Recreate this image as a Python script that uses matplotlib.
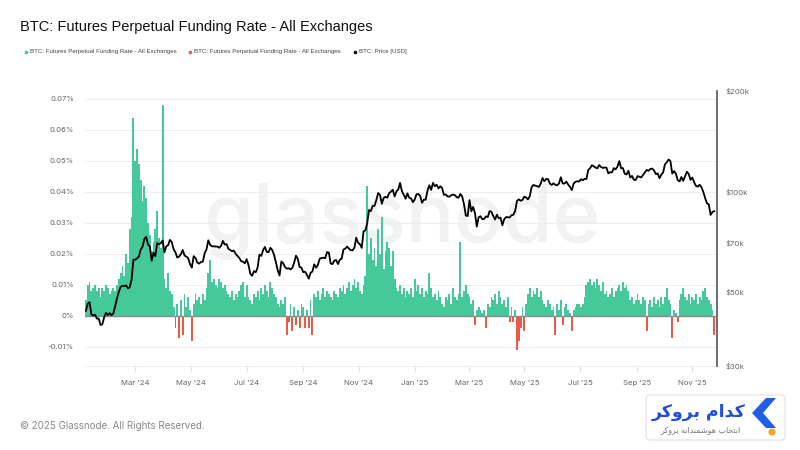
import matplotlib
matplotlib.use('Agg')
import matplotlib.pyplot as plt
import matplotlib.dates as mdates
from matplotlib.lines import Line2D
from matplotlib.patches import FancyBboxPatch, Polygon, Circle
from matplotlib.ticker import FixedLocator, NullLocator, FuncFormatter
import numpy as np
import pandas as pd

# ---------------- data (2-day steps from 2024-01-07) ----------------
start_date = '2024-01-07'

funding_2024 = [
    0.005, 0.010, 0.011, 0.008, 0.009, 0.010, 0.008, 0.009, 0.006, 0.009, 0.008, 0.010, 0.009, 0.007, 0.008, 0.009,
    0.008, 0.010, 0.012, 0.014, 0.016, 0.013, 0.020, 0.017, 0.028, 0.032,
    0.064, 0.050, 0.054, 0.049, 0.044, 0.037, 0.042, 0.038, 0.030, 0.026, 0.021, 0.024, 0.028, 0.034, 0.025, 0.022, 0.068,
    0.012, 0.009, 0.014, 0.008, 0.007, 0.003, -0.004, 0.004, -0.007, 0.005, -0.006, 0.007, 0.003, 0.006, 0.002,
    -0.008, 0.004, 0.007, 0.005, 0.006, 0.004, 0.007, 0.005, 0.009, 0.014, 0.018, 0.011, 0.012, 0.010, 0.009,
    0.012, 0.011, 0.009, 0.010, 0.008, 0.007, 0.006, 0.008, 0.005, 0.007, 0.006, 0.008, 0.010, 0.011, 0.006,
    0.010, 0.006, 0.005, 0.004, 0.007, 0.006, 0.008, 0.005, 0.009, 0.007, 0.010, 0.008, 0.006, 0.011, 0.009, 0.007,
    0.006, 0.004, 0.003, 0.005, 0.004, 0.006, -0.006, -0.002, 0.004, -0.005, 0.003, -0.003, 0.002, -0.004, 0.004,
    0.003, -0.004, 0.002, -0.004, 0.005, -0.006, 0.007, 0.006, 0.008, 0.005, 0.007, 0.009, 0.006, 0.008, 0.007,
    0.006, 0.005, 0.008, 0.007, 0.006, 0.009, 0.008, 0.010, 0.007, 0.009, 0.011, 0.008, 0.010, 0.012, 0.009, 0.011,
    0.008, 0.007, 0.010, 0.013, 0.042, 0.020, 0.025, 0.018, 0.022, 0.016, 0.028, 0.020, 0.032, 0.015, 0.021,
    0.024, 0.022, 0.016, 0.021, 0.012, 0.009, 0.008, 0.010, 0.007, 0.009, 0.006, 0.008, 0.007, 0.009, 0.006,
]
funding_2025 = [
    0.012, 0.008, 0.010, 0.007, 0.009, 0.006, 0.008, 0.007, 0.014, 0.009, 0.006, 0.007, 0.005, 0.008, 0.006, 0.004,
    0.003, 0.006, 0.005, 0.007, 0.004, 0.009, 0.006, 0.005, 0.007, 0.024, 0.006, 0.008, 0.010, 0.007,
    0.006, 0.004, 0.005, -0.003, 0.002, 0.003, 0.002, 0.001, 0.002, -0.004, 0.004, 0.003, 0.006, 0.005, 0.007,
    0.004, 0.008, 0.006, 0.004, 0.005, 0.003, 0.006, -0.002, 0.003, -0.002, 0.002, -0.011, -0.008, -0.004, 0.003,
    -0.005, 0.004, 0.007, 0.009, 0.006, 0.008, 0.007, 0.009, 0.006, 0.008, 0.005, 0.004, 0.003, 0.005, 0.004, 0.002,
    0.003, -0.006, 0.004, 0.002, 0.005, -0.003, 0.003, 0.004, 0.002, 0.001, -0.005, 0.002, 0.003, 0.004, 0.004,
    0.003, 0.004, 0.006, 0.010, 0.011, 0.012, 0.010, 0.011, 0.009, 0.012, 0.010, 0.008, 0.011, 0.007, 0.008,
    0.006, 0.007, 0.009, 0.006, 0.008, 0.009, 0.010, 0.008, 0.011, 0.009, 0.010, 0.008, 0.005, 0.006, 0.004, 0.005,
    0.007, 0.005, 0.004, 0.006, 0.005, -0.005, 0.004, 0.005, 0.003, 0.006, 0.004, 0.005, 0.003, 0.006, 0.004,
    0.006, 0.009, 0.005, 0.004, -0.007, 0.002, 0.001, -0.002, 0.005, 0.007, 0.009, 0.006, 0.005, 0.007, 0.004,
    0.006, 0.005, 0.007, 0.004, 0.006, 0.005, 0.008, 0.009, 0.006, 0.005, 0.004, 0.002, -0.006,
]

price_2024_k = [
    43.9, 46.1, 46.6, 42.8, 42.5, 42.7, 41.6, 41.6, 39.8, 40.0, 42.0, 43.3, 42.6, 43.2, 42.6, 43.1,
    45.3, 47.8, 50.0, 51.8, 52.1, 52.1, 52.3, 51.3, 51.6, 54.5,
    62.5, 62.4, 63.1, 63.8, 67.0, 68.3, 72.1, 73.1, 69.4, 68.4, 62.0, 65.5, 64.0, 70.0, 69.5, 70.0, 71.3,
    65.7, 68.5, 69.0, 71.6, 70.6, 67.2, 65.7, 63.4, 63.8, 64.9, 66.8, 64.3, 63.8, 63.1, 60.6,
    59.1, 64.0, 63.2, 61.2, 60.8, 61.5, 61.6, 65.3, 67.0, 71.4, 69.2, 68.5, 68.5, 68.4, 68.4,
    67.8, 68.8, 71.1, 69.3, 69.6, 67.3, 66.8, 66.2, 66.5, 65.0, 64.1, 63.2, 61.8, 61.6, 60.9,
    62.7, 60.2, 56.7, 55.9, 57.7, 57.3, 59.2, 64.7, 64.1, 66.7, 68.2, 65.9, 65.8, 67.8, 66.8, 64.6,
    61.4, 58.1, 56.0, 61.7, 60.9, 59.4, 58.7, 58.9, 58.4, 59.0, 61.2, 64.2, 62.8, 59.4, 59.1,
    57.3, 57.5, 56.2, 54.8, 57.0, 57.6, 60.5, 59.1, 60.3, 62.9, 63.2, 63.3, 63.1, 65.8, 65.6,
    60.8, 60.6, 62.1, 62.3, 60.6, 62.4, 62.9, 67.0, 67.4, 68.4, 67.4, 66.7, 66.6, 67.9, 72.7, 70.2,
    69.5, 67.8, 75.9, 76.5, 80.4, 88.0, 87.3, 90.6, 90.5, 94.3, 98.9, 97.7, 91.9, 95.6, 96.4,
    95.8, 98.8, 99.9, 101.2, 96.6, 100.0, 101.4, 106.1, 100.2, 97.8, 95.1, 98.7, 95.8, 95.3, 92.8,
]
price_2025_k = [
    94.6, 98.1, 98.3, 96.9, 92.5, 94.5, 94.5, 100.5, 104.4, 101.1, 106.1, 103.7, 104.8, 102.1, 103.7, 102.4,
    97.7, 98.0, 96.6, 96.5, 97.4, 97.9, 97.5, 96.1, 95.8, 98.3, 96.6, 91.4, 84.7, 84.4,
    94.2, 87.2, 89.9, 86.1, 78.5, 83.7, 84.3, 82.6, 82.7, 84.2, 83.8, 87.3, 86.9, 84.4, 82.4,
    85.2, 83.1, 83.5, 79.2, 82.6, 83.8, 83.7, 83.6, 84.9, 85.1, 87.5, 93.7, 94.7, 93.8, 94.3,
    96.5, 95.9, 94.7, 96.8, 102.9, 104.6, 104.1, 103.7, 103.2, 105.6, 109.7, 107.3, 109.0, 108.9, 105.6, 104.6,
    105.8, 104.7, 104.3, 105.7, 110.3, 105.7, 105.6, 107.0, 104.9, 103.3, 101.0, 105.5, 106.9, 107.3, 107.1,
    108.8, 108.0, 109.2, 108.9, 116.0, 117.4, 119.8, 119.0, 117.9, 117.3, 120.0, 118.4, 117.6, 118.0, 117.8,
    113.3, 114.2, 114.1, 117.5, 116.5, 118.7, 123.3, 117.4, 117.5, 112.9, 112.5, 115.4, 110.1, 111.3, 108.4, 108.2,
    111.2, 110.7, 110.2, 112.1, 113.9, 116.0, 115.3, 116.8, 117.1, 115.7, 112.7, 113.3, 109.6, 112.2, 114.0,
    120.6, 122.3, 124.7, 123.3, 113.2, 115.1, 113.0, 108.2, 107.2, 110.5, 107.6, 111.0, 114.5, 112.9, 108.3,
    110.1, 106.5, 103.9, 103.4, 104.7, 103.0, 99.7, 95.6, 92.2, 91.5, 85.1, 86.8, 87.3,
]

left_ticks = [-0.01, 0.0, 0.01, 0.02, 0.03, 0.04, 0.05, 0.06, 0.07]
right_ticks = [30000, 50000, 70000, 100000, 200000]
right_labels = ['$30k', '$50k', '$70k', '$100k', '$200k']

title = 'BTC: Futures Perpetual Funding Rate - All Exchanges'
legend_labels = ['BTC: Futures Perpetual Funding Rate - All Exchanges',
                 'BTC: Futures Perpetual Funding Rate - All Exchanges',
                 'BTC: Price [USD]']

funding = np.array(funding_2024 + funding_2025)
price = np.array(price_2024_k + price_2025_k) * 1000.0
n = min(len(funding), len(price))
funding = funding[:n]
price = price[:n]
dates = pd.date_range(start_date, periods=n, freq='2D')

GREEN = '#45c99a'
RED = '#ea5a44'
GRAY_TXT = '#666666'

plt.rcParams['font.family'] = ['Inter', 'DejaVu Sans']

fig = plt.figure(figsize=(8, 4.5), dpi=100)
fig.patch.set_facecolor('white')

# watermark
fig.text(402 / 800, 1 - 222 / 450, 'glassnode', ha='center', va='center',
         fontsize=58, color='#f2f2f2', zorder=-5, fontweight='medium')

ax = fig.add_axes([85 / 800, 1 - 366 / 450, 632 / 800, 275 / 450])
ax.set_facecolor('none')
ax.patch.set_alpha(0)

colors = [GREEN if v >= 0 else RED for v in funding]
ax.bar(dates, funding, width=2.0, color=colors, linewidth=0, zorder=2)
ax.axhline(0, color='#8a8a8a', lw=1.0, zorder=3)

ax.set_ylim(-0.01613, 0.07258)
ax.set_xlim(pd.Timestamp('2024-01-06'), pd.Timestamp('2025-11-28'))
ax.yaxis.set_major_locator(FixedLocator(left_ticks))
ax.yaxis.set_major_formatter(FuncFormatter(lambda v, p: '0%' if abs(v) < 1e-9 else f'{v:.2f}%'))
ax.grid(axis='y', color='#eeeeee', lw=0.8, zorder=0)
ax.set_axisbelow(True)
ax.tick_params(axis='y', length=0, labelsize=5.5, labelcolor=GRAY_TXT, pad=8)

ax.xaxis.set_major_locator(mdates.MonthLocator(bymonth=[1, 3, 5, 7, 9, 11]))
ax.xaxis.set_major_formatter(mdates.DateFormatter("%b '%y"))
ax.tick_params(axis='x', length=4, color='#e4e4e4', labelsize=5.6, labelcolor=GRAY_TXT, pad=6)

for s in ['left', 'top', 'right']:
    ax.spines[s].set_visible(False)
ax.spines['bottom'].set_color('#eeeeee')
ax.spines['bottom'].set_linewidth(0.8)

ax2 = ax.twinx()
ax2.set_facecolor('none')
ax2.plot(dates, price, color='black', lw=1.3, zorder=4, solid_joinstyle='round')
ax2.set_yscale('log')
ax2.set_ylim(30000, 200000)
ax2.yaxis.set_major_locator(FixedLocator(right_ticks))
ax2.yaxis.set_major_formatter(FuncFormatter(lambda v, p: right_labels[right_ticks.index(int(round(v)))] if int(round(v)) in right_ticks else ''))
ax2.yaxis.set_minor_locator(NullLocator())
ax2.tick_params(axis='y', length=0, labelsize=5.6, labelcolor=GRAY_TXT, pad=6.5)
for s in ['left', 'top', 'bottom']:
    ax2.spines[s].set_visible(False)
ax2.spines['right'].set_color('#555555')
ax2.spines['right'].set_linewidth(1.2)

# title
fig.text(20 / 800, 1 - 27 / 450, title, ha='left', va='center', fontsize=10.5, color='#111111',
         family=['Liberation Sans', 'DejaVu Sans'])

# legend row
leg_y = 1 - 52 / 450
leg_items = [(26, 30, GREEN, legend_labels[0]), (190, 194, RED, legend_labels[1]),
             (355, 359, 'black', legend_labels[2])]
for dx, tx, col, lab in leg_items:
    fig.add_artist(Line2D([dx / 800], [leg_y], marker='o', markersize=2.6, color=col,
                          markeredgewidth=0, transform=fig.transFigure))
    fig.text(tx / 800, leg_y, lab, ha='left', va='center', fontsize=4.4, color='#444444',
             family=['Liberation Sans', 'DejaVu Sans'])

# footer
fig.text(20 / 800, 1 - 426 / 450, '\u00a9 2025 Glassnode. All Rights Reserved.', ha='left', va='center',
         fontsize=7, color='#888888')

# logo badge
lax = fig.add_axes([645 / 800, 1 - 441 / 450, 141 / 800, 47 / 450])
lax.set_xlim(0, 141)
lax.set_ylim(0, 47)
lax.axis('off')
lax.add_patch(FancyBboxPatch((1, 1), 139, 45, boxstyle='round,pad=0,rounding_size=4',
                             facecolor='white', edgecolor='#e2e2e2', lw=0.8))
blue_txt = '\uFEAE\uFB90\uFEED\uFEAE\uFE91 \uFEE1\uFE8D\uFEAA\uFB90'
gray_txt = ('\uFEAE\uFB90\uFEED\uFEAE\uFE91 '
            '\uFEEA\uFEE7\uFE8D\uFEAA\uFEE8\uFEE4\uFEB7\uFEEE\uFEEB '
            '\uFE8F\uFE8E\uFEA8\uFE98\uFEE7\uFE8D')
lax.text(101, 29, blue_txt, ha='right', va='center', fontsize=12.5, fontweight='bold',
         color='#1f4fd8', family=['DejaVu Sans'])
lax.text(96, 11, gray_txt, ha='right', va='center', fontsize=5.8, color='#777777', family=['DejaVu Sans'])
lax.add_patch(Polygon([(131, 43), (121, 43), (107, 28), (121, 13), (131, 13), (118, 28)],
                      closed=True, facecolor='#1f5fe8', edgecolor='none'))
lax.add_patch(Circle((127, 9), 3.6, facecolor='#f5a623', edgecolor='none'))

fig.savefig('out.png', dpi=100, facecolor='white')
